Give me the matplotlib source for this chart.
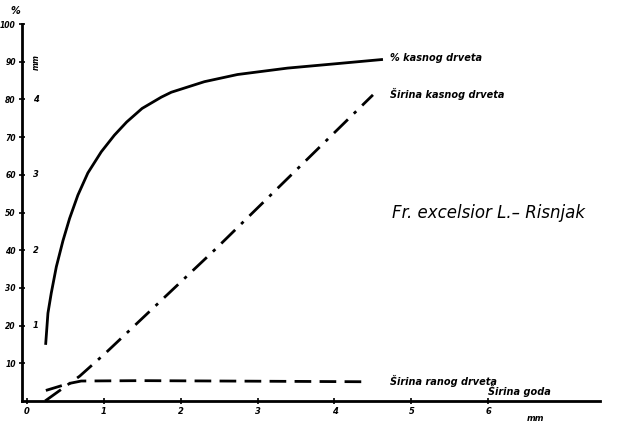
import matplotlib.pyplot as plt

# sirina goda (mm) vs % kasnog drveta
pct_x = [0.247, 0.277, 0.32, 0.386, 0.472, 0.558, 0.666, 0.796, 0.97, 1.14,
         1.30, 1.50, 1.75, 1.88, 2.31, 2.74, 3.39, 4.04, 4.63]
pct_y = [14.9, 23.3, 28.6, 35.6, 42.5, 48.4, 54.6, 60.5, 66.1, 70.5,
         74.0, 77.6, 80.6, 81.9, 84.7, 86.6, 88.3, 89.5, 90.6]

# sirina kasnog drveta (mm)
late_x = [0.24, 0.69, 1.03, 2.46, 4.50]
late_y = [0.00, 0.33, 0.64, 2.02, 4.06]

# sirina ranog drveta (mm)
early_x = [0.25, 0.54, 0.71, 1.5, 2.5, 3.5, 4.45]
early_y = [0.14, 0.23, 0.265, 0.27, 0.265, 0.26, 0.255]

pct_ticks = [10, 20, 30, 40, 50, 60, 70, 80, 90, 100]
mm_ticks = [1, 2, 3, 4]
x_ticks = [0, 1, 2, 3, 4, 5, 6]

MM_TO_PCT = 20.0

font = dict(style='italic', weight='bold', family='DejaVu Sans')

fig = plt.figure(figsize=(6.31, 4.22), dpi=100)
ax = fig.add_axes([22 / 631, 21 / 422, 578 / 631, 377 / 422])

ax.plot(pct_x, pct_y, color='black', lw=2.0, solid_capstyle='butt',
        solid_joinstyle='round')
ax.plot(late_x, [v * MM_TO_PCT for v in late_y], color='black', lw=2.0,
        dashes=(7, 3, 1.2, 3))
ax.plot(early_x, [v * MM_TO_PCT for v in early_y], color='black', lw=2.0,
        dashes=(6, 3))

ax.set_xlim(-0.06, 7.45)
ax.set_ylim(0, 100)

for s in ['top', 'right']:
    ax.spines[s].set_visible(False)
ax.spines['left'].set_linewidth(2.0)
ax.spines['bottom'].set_linewidth(2.0)

ax.set_xticks(x_ticks)
ax.set_xticklabels([str(t) for t in x_ticks], fontsize=6, **font)
ax.set_yticks(pct_ticks)
ax.set_yticklabels([str(t) for t in pct_ticks], fontsize=5.5, **font)
ax.tick_params(axis='both', direction='inout', length=5, width=1.2, pad=2)

# second scale in mm on the same axis line
for t in mm_ticks:
    ax.text(0.08, t * MM_TO_PCT, str(t), fontsize=6, va='center', ha='left', **font)
ax.text(0.13, 90, 'mm', fontsize=5.5, rotation=90, va='center', ha='center', **font)

ax.text(-0.08, 102, '%', fontsize=7, ha='right', va='bottom', clip_on=False, **font)
ax.text(6.5, -3.5, 'mm', fontsize=6, ha='left', va='top', clip_on=False, **font)

ax.text(4.72, 91, '% kasnog drveta', fontsize=7, ha='left', va='center', **font)
ax.text(4.72, 81.5, 'Širina kasnog drveta', fontsize=7, ha='left', va='center', **font)
ax.text(4.72, 5.2, 'Širina ranog drveta', fontsize=7, ha='left', va='center', **font)
ax.text(6.0, 2.6, 'Širina goda', fontsize=7, ha='left', va='center', **font)
ax.text(4.75, 50, 'Fr. excelsior L.– Risnjak', fontsize=12, ha='left', va='center',
        style='italic', family='DejaVu Sans')

fig.savefig('out.png', dpi=100)
